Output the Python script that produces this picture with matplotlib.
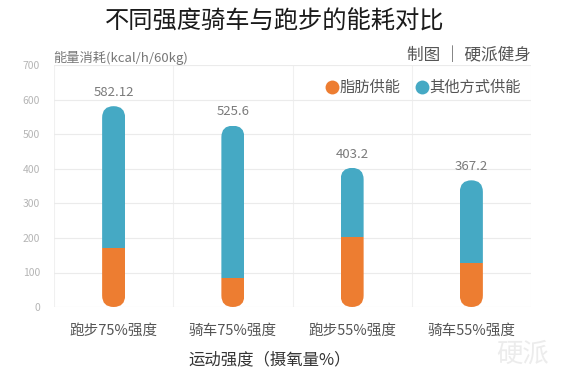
import matplotlib
matplotlib.use('Agg')
import matplotlib.pyplot as plt
from matplotlib.lines import Line2D
from matplotlib.patches import FancyBboxPatch

plt.rcParams['font.family'] = ['Noto Sans CJK SC', 'DejaVu Sans']

# Data
categories = ['跑步75%强度', '骑车75%强度', '跑步55%强度', '骑车55%强度']
total = [582.12, 525.6, 403.2, 367.2]
fat = [172, 84, 203, 128]
y_ticks = [0, 100, 200, 300, 400, 500, 600, 700]
legend_labels = ['脂肪供能', '其他方式供能']

orange = '#ED7D31'
blue = '#45A9C4'

W, H, DPI = 5.70, 3.74, 100
fig = plt.figure(figsize=(W, H), dpi=DPI)
fig.set_facecolor('white')

# axes placed in pixel terms
left_px, right_px, top_px, bottom_px = 54, 531, 65.5, 307
ax = fig.add_axes([left_px / 570, 1 - bottom_px / 374,
                   (right_px - left_px) / 570, (bottom_px - top_px) / 374])
ax.set_xlim(-0.5, 3.5)
ax.set_ylim(0, 700)

# bar sizes (rounded ends need equal radius in pixels)
bar_px = 23
px_per_x = (right_px - left_px) / 4
px_per_y = (bottom_px - top_px) / 700
bar_w = bar_px / px_per_x
aspect = px_per_x / px_per_y

other = [t - f for t, f in zip(total, fat)]
for i in range(len(categories)):
    clip = FancyBboxPatch((i - bar_w / 2, 0), bar_w, total[i],
                          boxstyle='round,pad=0,rounding_size=%f' % (bar_w / 2),
                          mutation_aspect=aspect, transform=ax.transData)
    b1 = ax.bar(i, fat[i], width=bar_w, color=orange, lw=0, zorder=3)
    b2 = ax.bar(i, other[i], bottom=fat[i], width=bar_w, color=blue, lw=0, zorder=3)
    b1[0].set_clip_path(clip)
    b2[0].set_clip_path(clip)
    ax.text(i, total[i] + 40, str(total[i]), ha='center', va='center',
            fontsize=9.5, color='#7a7a7a')

# grid
ax.set_yticks(y_ticks)
ax.set_yticklabels([str(t) for t in y_ticks], fontsize=7.5, color='#b5b5b5')
ax.set_xticks(range(len(categories)))
ax.set_xticklabels(categories, fontsize=10.5, color='#555555')
ax.tick_params(length=0)
ax.tick_params(axis='y', pad=10)
ax.tick_params(axis='x', pad=12)
ax.grid(axis='y', color='#ebebeb', lw=0.8, zorder=0)
for xv in [-0.5, 0.5, 1.5, 2.5, 3.5]:
    ax.axvline(xv, color='#f0f0f0', lw=0.8, zorder=0)
for s in ax.spines.values():
    s.set_visible(False)

# texts
fig.text(275 / 570, 1 - 22 / 374, '不同强度骑车与跑步的能耗对比', ha='center',
         va='center', fontsize=17.5, color='#1a1a1a', weight='medium')
fig.text(531 / 570, 1 - 55 / 374, '制图 ｜ 硬派健身', ha='right', va='center',
         fontsize=12, color='#555555')
fig.text(53 / 570, 1 - 58 / 374, '能量消耗(kcal/h/60kg)', ha='left', va='center',
         fontsize=9.5, color='#777777')
fig.text(270 / 570, 1 - 360 / 374, '运动强度（摄氧量%）', ha='center', va='center',
         fontsize=11.8, color='#333333')
fig.text(523 / 570, 1 - 354 / 374, '硬派', ha='center', va='center',
         fontsize=19, color='#ececec', style='italic')

# legend
fig.lines.append(Line2D([332 / 570], [1 - 87 / 374], marker='o', ms=10, mew=0,
                        color=orange, transform=fig.transFigure))
fig.text(340 / 570, 1 - 87 / 374, legend_labels[0], ha='left', va='center',
         fontsize=11, color='#555555')
fig.lines.append(Line2D([422 / 570], [1 - 87 / 374], marker='o', ms=10, mew=0,
                        color=blue, transform=fig.transFigure))
fig.text(429 / 570, 1 - 87 / 374, legend_labels[1], ha='left', va='center',
         fontsize=11, color='#555555')

fig.savefig('out.png', dpi=DPI)
